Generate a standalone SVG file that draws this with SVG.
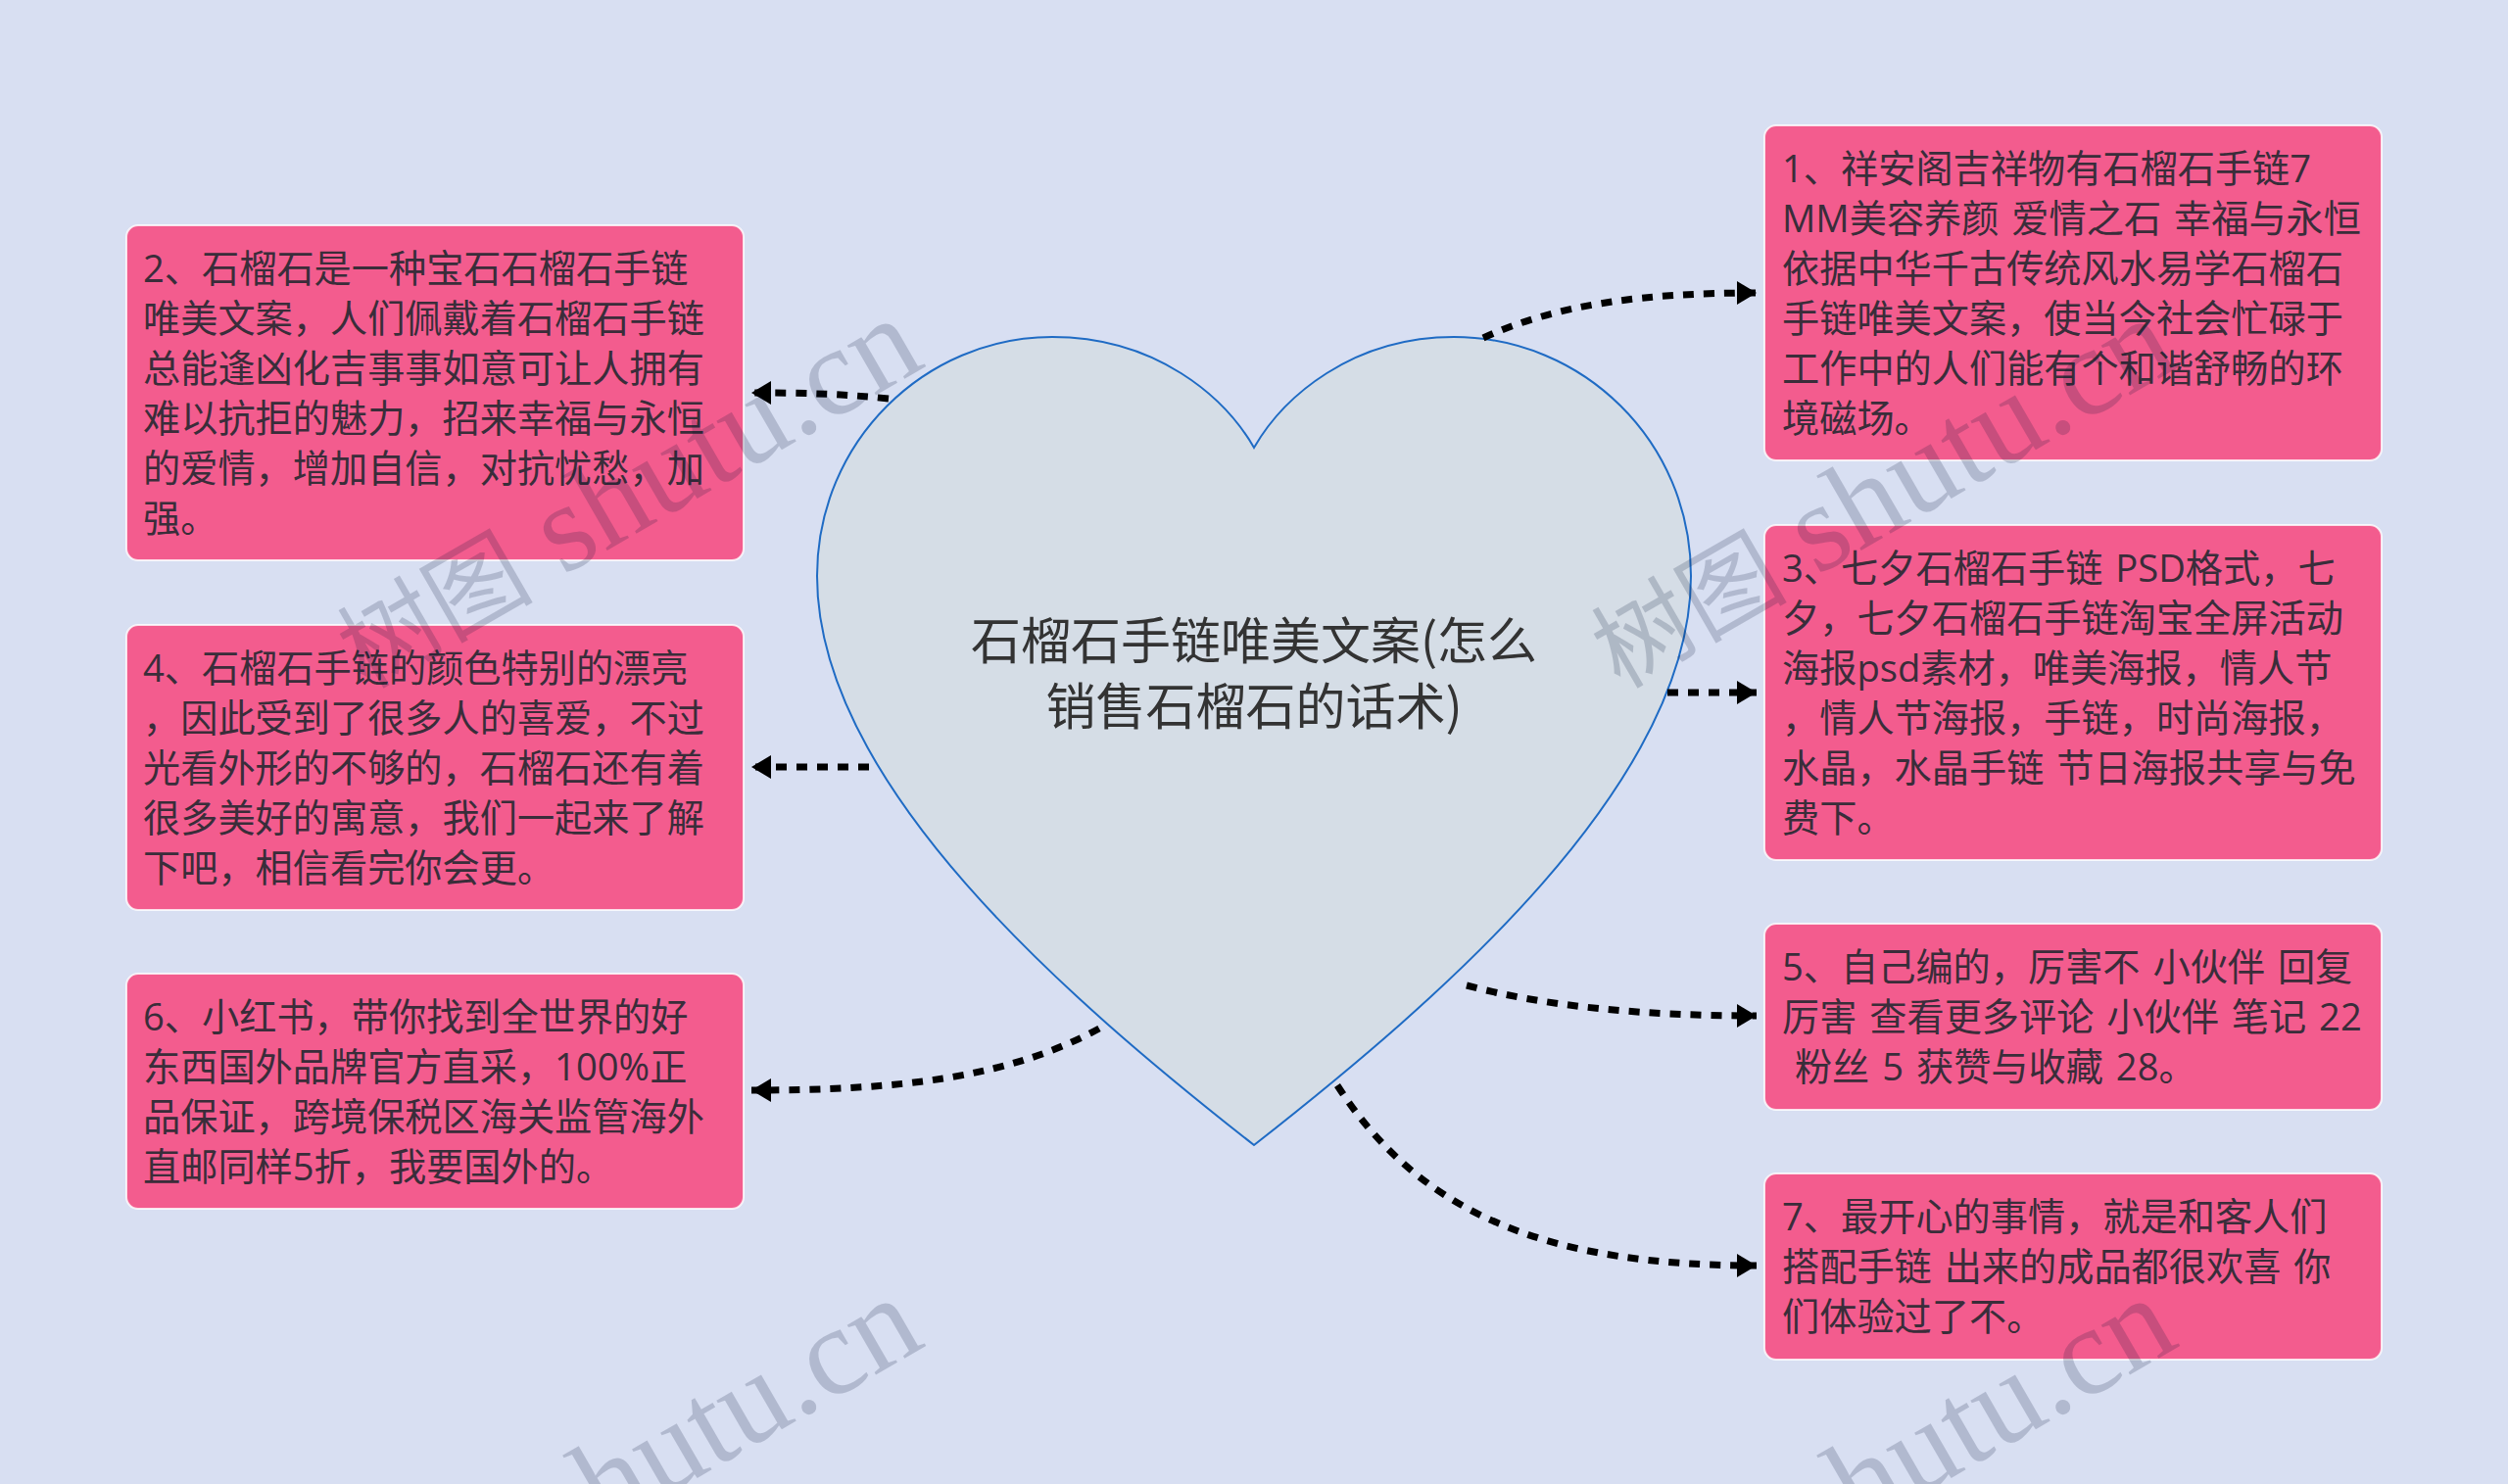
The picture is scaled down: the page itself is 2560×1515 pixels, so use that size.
<svg xmlns="http://www.w3.org/2000/svg" width="2560" height="1515" viewBox="0 0 2560 1515">
<style>
.box{fill:#f35c8e;stroke:#fff;stroke-opacity:.8;stroke-width:2}
.t{font-family:"Open Sans","Noto Sans CJK SC",sans-serif;font-size:38.2px;fill:#3a2d3a;white-space:pre;word-spacing:3px}
.title{font-family:"Noto Sans CJK SC","Noto Sans",sans-serif;font-size:51px;fill:#333;text-anchor:middle}
.c{fill:none;stroke:#000;stroke-width:7;stroke-dasharray:11 10}
.wm{font-family:"Liberation Serif","Noto Sans CJK SC",serif;font-size:128px;fill:#001030;fill-opacity:.18;text-anchor:end}
.wm tspan{font-size:100px}
</style>
<defs>
<marker id="a" viewBox="0 0 20 24" refX="20" refY="12" markerWidth="20" markerHeight="24" markerUnits="userSpaceOnUse" orient="auto"><path d="M0 0L20 12L0 24Z" fill="#000"/></marker>
</defs>
<rect width="2560" height="1515" fill="#d8dff2"/>
<g id="center">
<path d="M1280 457C1250 405 1180 344 1074 344C945 344 834 450 834 588C834 800 1090 1020 1280 1169C1470 1020 1726 800 1726 588C1726 450 1615 344 1484 344C1380 344 1310 405 1280 457Z" fill="#d5dde6" stroke="#1f6bc4" stroke-width="2"/>
<text class="title" x="1280" y="673">石榴石手链唯美文案(怎么</text>
<text class="title" x="1280" y="740">销售石榴石的话术)</text>
</g>
<g id="connectors">
<path class="c" marker-end="url(#a)" d="M1514 345C1590 310 1680 299 1793 299"/>
<path class="c" marker-end="url(#a)" d="M1702 707L1793 707"/>
<path class="c" marker-end="url(#a)" d="M1497 1006C1580 1028 1680 1037 1793 1037"/>
<path class="c" marker-end="url(#a)" d="M1365 1108C1450 1240 1580 1292 1793 1292"/>
<path class="c" marker-end="url(#a)" d="M907 407C860 402 820 401 767 401"/>
<path class="c" marker-end="url(#a)" d="M887 783L767 783"/>
<path class="c" marker-end="url(#a)" d="M1122 1050C1030 1100 920 1113 767 1113"/>
</g>
<g id="n1"><rect class="box" x="1801" y="128" width="630" height="342" rx="12"/>
<text class="t" x="1819" y="186">1、祥安阁吉祥物有石榴石手链7</text>
<text class="t" x="1819" y="237">MM美容养颜 爱情之石 幸福与永恒</text>
<text class="t" x="1819" y="288">依据中华千古传统风水易学石榴石</text>
<text class="t" x="1819" y="339">手链唯美文案，使当今社会忙碌于</text>
<text class="t" x="1819" y="390">工作中的人们能有个和谐舒畅的环</text>
<text class="t" x="1819" y="441">境磁场。</text></g>
<g id="n3"><rect class="box" x="1801" y="536" width="630" height="342" rx="12"/>
<text class="t" x="1819" y="594">3、七夕石榴石手链 PSD格式，七</text>
<text class="t" x="1819" y="645">夕，七夕石榴石手链淘宝全屏活动</text>
<text class="t" x="1819" y="696">海报psd素材，唯美海报，情人节</text>
<text class="t" x="1819" y="747">，情人节海报，手链，时尚海报，</text>
<text class="t" x="1819" y="798">水晶，水晶手链 节日海报共享与免</text>
<text class="t" x="1819" y="849">费下。</text></g>
<g id="n5"><rect class="box" x="1801" y="943" width="630" height="190" rx="12"/>
<text class="t" x="1819" y="1001">5、自己编的，厉害不 小伙伴 回复</text>
<text class="t" x="1819" y="1052">厉害 查看更多评论 小伙伴 笔记 22</text>
<text class="t" x="1819" y="1103"> 粉丝 5 获赞与收藏 28。</text></g>
<g id="n7"><rect class="box" x="1801" y="1198" width="630" height="190" rx="12"/>
<text class="t" x="1819" y="1256">7、最开心的事情，就是和客人们</text>
<text class="t" x="1819" y="1307">搭配手链 出来的成品都很欢喜 你</text>
<text class="t" x="1819" y="1358">们体验过了不。</text></g>
<g id="n2"><rect class="box" x="129" y="230" width="630" height="342" rx="12"/>
<text class="t" x="146" y="288">2、石榴石是一种宝石石榴石手链</text>
<text class="t" x="146" y="339">唯美文案，人们佩戴着石榴石手链</text>
<text class="t" x="146" y="390">总能逢凶化吉事事如意可让人拥有</text>
<text class="t" x="146" y="441">难以抗拒的魅力，招来幸福与永恒</text>
<text class="t" x="146" y="492">的爱情，增加自信，对抗忧愁，加</text>
<text class="t" x="146" y="543">强。</text></g>
<g id="n4"><rect class="box" x="129" y="638" width="630" height="291" rx="12"/>
<text class="t" x="146" y="696">4、石榴石手链的颜色特别的漂亮</text>
<text class="t" x="146" y="747">，因此受到了很多人的喜爱，不过</text>
<text class="t" x="146" y="798">光看外形的不够的，石榴石还有着</text>
<text class="t" x="146" y="849">很多美好的寓意，我们一起来了解</text>
<text class="t" x="146" y="900">下吧，相信看完你会更。</text></g>
<g id="n6"><rect class="box" x="129" y="994" width="630" height="240" rx="12"/>
<text class="t" x="146" y="1052">6、小红书，带你找到全世界的好</text>
<text class="t" x="146" y="1103">东西国外品牌官方直采，100%正</text>
<text class="t" x="146" y="1154">品保证，跨境保税区海关监管海外</text>
<text class="t" x="146" y="1205">直邮同样5折，我要国外的。</text></g>
<g id="watermark">
<text class="wm" transform="translate(947 373) rotate(-30)"><tspan>树图</tspan> shutu.cn</text>
<text class="wm" transform="translate(2227 373) rotate(-30)"><tspan>树图</tspan> shutu.cn</text>
<text class="wm" transform="translate(947 1373) rotate(-30)"><tspan>树图</tspan> shutu.cn</text>
<text class="wm" transform="translate(2227 1373) rotate(-30)"><tspan>树图</tspan> shutu.cn</text>
</g>
</svg>
